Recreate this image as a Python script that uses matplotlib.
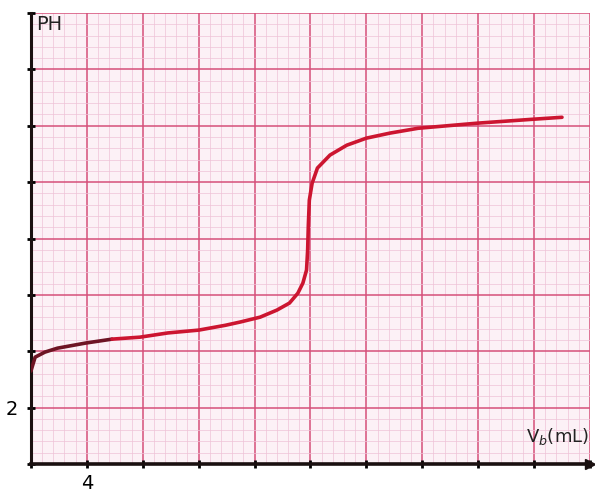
import numpy as np
import matplotlib
matplotlib.use("Agg")
import matplotlib.pyplot as plt
from matplotlib.ticker import MultipleLocator

# titration curve
vb = [0.0, 0.3, 1.0, 1.9, 3.9, 5.8, 7.8, 9.8, 12.0, 13.9, 15.0, 16.4, 17.6,
      18.5, 19.1, 19.46, 19.72, 19.8, 19.85, 19.92, 20.12, 20.5, 21.4, 22.6,
      24.0, 25.7, 27.7, 31.9, 33.9, 35.9, 38.0]
ph = [3.30, 3.79, 3.97, 4.11, 4.29, 4.43, 4.50, 4.65, 4.75, 4.92, 5.04, 5.21,
      5.46, 5.71, 6.06, 6.42, 6.88, 7.59, 8.48, 9.36, 9.96, 10.50, 10.96,
      11.31, 11.56, 11.74, 11.91, 12.09, 12.16, 12.23, 12.30]

xticks = [0, 4, 8, 12, 16, 20, 24, 28, 32, 36, 40]
xlabels = ["", "4", "", "", "", "", "", "", "", "", ""]
yticks = [0, 2, 4, 6, 8, 10, 12, 14, 16]
ylabels = ["", "2", "", "", "", "", "", "", ""]

fig = plt.figure(figsize=(5.95, 4.94), dpi=100)
ax = fig.add_axes([0.052, 0.0607, 0.9395, 0.913])
ax.set_facecolor("#fcf1f6")

ax.set_xlim(0, 40)
ax.set_ylim(0, 16)

# graph paper grid
ax.xaxis.set_minor_locator(MultipleLocator(0.8))
ax.yaxis.set_minor_locator(MultipleLocator(0.4))
ax.grid(which="minor", color="#efc3d7", lw=0.5)
ax.grid(which="major", color="#d6507a", lw=1.1)
ax.set_axisbelow(True)

# the pen starts darker on the left
ax.plot(vb[:6], ph[:6], color="#6e1424", lw=2.6, solid_capstyle="round", zorder=3)
ax.plot(vb[5:], ph[5:], color="#cc1530", lw=2.6, solid_capstyle="round",
        solid_joinstyle="round", zorder=3)

ax.set_xticks(xticks)
ax.set_xticklabels(xlabels)
ax.set_yticks(yticks)
ax.set_yticklabels(ylabels)
ax.tick_params(which="major", direction="inout", length=6, width=2,
               color="black", labelsize=14, pad=4)
ax.tick_params(which="minor", length=0)
ax.tick_params(axis="y", pad=6)

for s in ["top", "right"]:
    ax.spines[s].set_visible(False)
ax.spines["left"].set_linewidth(2.2)
ax.spines["bottom"].set_linewidth(2.6)
ax.spines["left"].set_color("#1a1010")
ax.spines["bottom"].set_color("#1a1010")
ax.plot(1.0, 0, marker=">", color="#1a1010", ms=7,
        transform=ax.transAxes, clip_on=False, zorder=5)

ax.text(0.01, 0.995, "PH", transform=ax.transAxes, ha="left", va="top",
        fontsize=14, color="#222222")
ax.text(0.998, 0.06, r"V$_b$(mL)", transform=ax.transAxes, ha="right",
        va="center", fontsize=13, color="#222222")

fig.savefig("out.png", dpi=100, facecolor="white")
